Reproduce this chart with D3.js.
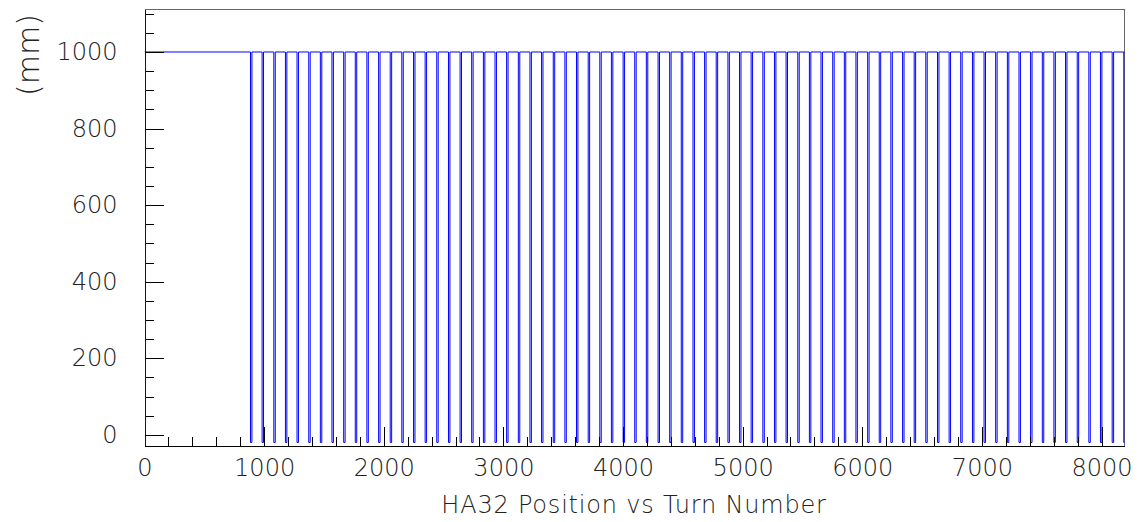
<!DOCTYPE html>
<html>
<head>
<meta charset="utf-8">
<script src="https://cdn.jsdelivr.net/npm/d3@7"></script>
<style>
  body { margin: 0; background: #fff; }
  svg text { font-family: "DejaVu Sans", sans-serif; font-weight: 200; fill: #222; }
  .axis path, .axis line { stroke: #000; shape-rendering: crispEdges; }
</style>
</head>
<body>
<script>
// turns where the HA32 position drops out
var dropTurns = [
  886, 983, 1081, 1178, 1275, 1373, 1470, 1567, 1665, 1762,
  1859, 1957, 2054, 2151, 2249, 2346, 2443, 2541, 2638, 2735,
  2833, 2930, 3027, 3125, 3222, 3319, 3417, 3514, 3611, 3709,
  3806, 3903, 4001, 4098, 4195, 4293, 4390, 4487, 4585, 4682,
  4779, 4877, 4974, 5071, 5169, 5266, 5363, 5461, 5558, 5655,
  5753, 5850, 5947, 6045, 6142, 6239, 6337, 6434, 6531, 6629,
  6726, 6823, 6921, 7018, 7115, 7213, 7310, 7407, 7505, 7602,
  7699, 7797, 7894, 7991, 8089, 8186
]
var highLevel = 1000      // mm, plateau value
var lowLevel = -20        // mm, bottom of each drop
var dropWidth = 12        // turns spent at the bottom
var lastTurn = 8192

var xMajor = [0, 1000, 2000, 3000, 4000, 5000, 6000, 7000, 8000]
var yMajor = [0, 200, 400, 600, 800, 1000]
var xMinor = d3.range(0, 8192, 200)
var yMinor = d3.range(0, 1101, 50)

var W = 1140, H = 522
var pl = 144.5, pr = 1124.5, pt = 9.5, pb = 445.5

var svg = d3.select('body').append('svg')
    .attr('width', W)
    .attr('height', H)

var x = d3.scaleLinear().domain([0, lastTurn]).range([pl, pr])
var y = d3.scaleLinear().domain([-28, 1111]).range([pb, pt])

// build the step trace
var pts = [[0, highLevel]]
dropTurns.forEach(function(t){
  pts.push([t, highLevel], [t, lowLevel], [t + dropWidth, lowLevel], [t + dropWidth, highLevel])
})
pts.push([lastTurn, highLevel])

svg.append('clipPath').attr('id', 'clip')
  .append('rect')
    .attr('x', pl).attr('y', pt)
    .attr('width', pr - pl).attr('height', pb - pt)

// frame top/right
svg.append('path')
    .attr('d', 'M' + pl + ',' + pt + 'H' + pr + 'V' + pb)
    .attr('fill', 'none')
    .attr('stroke', '#666')
    .attr('shape-rendering', 'crispEdges')

svg.append('path')
    .datum(pts)
    .attr('clip-path', 'url(#clip)')
    .attr('fill', 'none')
    .attr('stroke', '#0000ff')
    .attr('stroke-width', 1)
    .attr('d', d3.line()
      .x(function(d){ return x(d[0]) })
      .y(function(d){ return y(d[1]) }))

// minor ticks
svg.append('g')
    .attr('class', 'axis')
    .attr('transform', 'translate(0,' + pb + ')')
    .call(d3.axisBottom(x).tickValues(xMinor).tickSizeInner(-9).tickSizeOuter(0).tickFormat(''))
svg.append('g')
    .attr('class', 'axis')
    .attr('transform', 'translate(' + pl + ',0)')
    .call(d3.axisLeft(y).tickValues(yMinor).tickSizeInner(-9).tickSizeOuter(0).tickFormat(''))

// major ticks + labels
svg.append('g')
    .attr('class', 'axis')
    .attr('transform', 'translate(0,' + pb + ')')
    .call(d3.axisBottom(x).tickValues(xMajor).tickSizeInner(-19).tickSizeOuter(0)
      .tickPadding(13).tickFormat(d3.format('d')))
svg.append('g')
    .attr('class', 'axis y')
    .attr('transform', 'translate(' + pl + ',0)')
    .call(d3.axisLeft(y).tickValues(yMajor).tickSizeInner(-19).tickSizeOuter(0)
      .tickPadding(27).tickFormat(d3.format('d')))
svg.select('.axis.y path').style('stroke', '#101040')

svg.selectAll('.axis text')
    .style('font-size', '24px')
    .style('font-family', '"DejaVu Sans", sans-serif')
    .attr('fill', '#222')

svg.append('text')
    .attr('x', 634)
    .attr('y', 513)
    .attr('text-anchor', 'middle')
    .style('font-size', '24px')
    .style('letter-spacing', '0.8px')
    .text('HA32 Position vs Turn Number')

svg.append('text')
    .attr('transform', 'translate(39,55) rotate(-90)')
    .attr('text-anchor', 'middle')
    .style('font-size', '30px')
    .text('(mm)')
</script>
</body>
</html>
